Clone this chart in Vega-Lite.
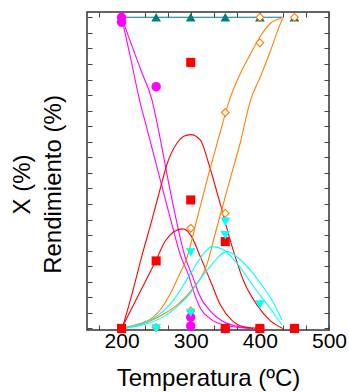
{
  "$schema": "https://vega.github.io/schema/vega-lite/v6.json",
  "width": 242,
  "height": 318,
  "autosize": "none",
  "padding": {"left": 87, "top": 12, "right": 20, "bottom": 62},
  "config": {
    "view": {"stroke": "#333", "strokeWidth": 1.5},
    "axis": {"domain": false, "grid": false, "labelFont": "Liberation Sans", "titleFont": "Liberation Sans", "tickColor": "#444", "labelColor": "#000", "titleColor": "#000", "titleFontWeight": "normal"}
  },
  "datasets": {
    "lines": [
      {"s": "teal", "c": "t1", "T": 195, "V": 100}, {"s": "teal", "c": "t1", "T": 433, "V": 100},
      {"s": "mag", "c": "mA", "T": 200, "V": 100}, {"s": "mag", "c": "mA", "T": 212, "V": 88}, {"s": "mag", "c": "mA", "T": 226, "V": 73.4}, {"s": "mag", "c": "mA", "T": 237, "V": 64}, {"s": "mag", "c": "mA", "T": 256, "V": 47.7}, {"s": "mag", "c": "mA", "T": 271, "V": 35}, {"s": "mag", "c": "mA", "T": 285, "V": 23.6}, {"s": "mag", "c": "mA", "T": 297, "V": 17}, {"s": "mag", "c": "mA", "T": 304, "V": 12}, {"s": "mag", "c": "mA", "T": 314, "V": 6.5}, {"s": "mag", "c": "mA", "T": 329, "V": 3}, {"s": "mag", "c": "mA", "T": 350, "V": 1}, {"s": "mag", "c": "mA", "T": 385, "V": 0},
      {"s": "mag", "c": "mB", "T": 200, "V": 100}, {"s": "mag", "c": "mB", "T": 213, "V": 92}, {"s": "mag", "c": "mB", "T": 228, "V": 83}, {"s": "mag", "c": "mB", "T": 244, "V": 73.4}, {"s": "mag", "c": "mB", "T": 255, "V": 62}, {"s": "mag", "c": "mB", "T": 267, "V": 48}, {"s": "mag", "c": "mB", "T": 279, "V": 35}, {"s": "mag", "c": "mB", "T": 291, "V": 23.6}, {"s": "mag", "c": "mB", "T": 304, "V": 16}, {"s": "mag", "c": "mB", "T": 312, "V": 11}, {"s": "mag", "c": "mB", "T": 329, "V": 5.4}, {"s": "mag", "c": "mB", "T": 345, "V": 2.5}, {"s": "mag", "c": "mB", "T": 365, "V": 0.8}, {"s": "mag", "c": "mB", "T": 390, "V": 0},
      {"s": "red", "c": "r1", "T": 201, "V": 0}, {"s": "red", "c": "r1", "T": 215, "V": 11}, {"s": "red", "c": "r1", "T": 229, "V": 23}, {"s": "red", "c": "r1", "T": 244, "V": 35}, {"s": "red", "c": "r1", "T": 256, "V": 45}, {"s": "red", "c": "r1", "T": 266, "V": 53}, {"s": "red", "c": "r1", "T": 280, "V": 59.5}, {"s": "red", "c": "r1", "T": 290, "V": 61.8}, {"s": "red", "c": "r1", "T": 300, "V": 62.3}, {"s": "red", "c": "r1", "T": 314, "V": 60.5}, {"s": "red", "c": "r1", "T": 326, "V": 53}, {"s": "red", "c": "r1", "T": 333, "V": 47.7}, {"s": "red", "c": "r1", "T": 344, "V": 39}, {"s": "red", "c": "r1", "T": 353, "V": 31.6}, {"s": "red", "c": "r1", "T": 365, "V": 22.6}, {"s": "red", "c": "r1", "T": 377, "V": 15}, {"s": "red", "c": "r1", "T": 396, "V": 7.5}, {"s": "red", "c": "r1", "T": 415, "V": 2.5}, {"s": "red", "c": "r1", "T": 433, "V": 0},
      {"s": "red", "c": "r2", "T": 200, "V": 0}, {"s": "red", "c": "r2", "T": 225, "V": 11}, {"s": "red", "c": "r2", "T": 250, "V": 22}, {"s": "red", "c": "r2", "T": 263, "V": 28}, {"s": "red", "c": "r2", "T": 275, "V": 31}, {"s": "red", "c": "r2", "T": 288, "V": 32}, {"s": "red", "c": "r2", "T": 300, "V": 30}, {"s": "red", "c": "r2", "T": 314, "V": 23}, {"s": "red", "c": "r2", "T": 329, "V": 15}, {"s": "red", "c": "r2", "T": 343, "V": 7.5}, {"s": "red", "c": "r2", "T": 360, "V": 2.5}, {"s": "red", "c": "r2", "T": 377, "V": 0.5}, {"s": "red", "c": "r2", "T": 400, "V": 0},
      {"s": "ora", "c": "oL", "T": 200, "V": 0}, {"s": "ora", "c": "oL", "T": 225, "V": 1.5}, {"s": "ora", "c": "oL", "T": 245, "V": 3.5}, {"s": "ora", "c": "oL", "T": 256, "V": 6}, {"s": "ora", "c": "oL", "T": 270, "V": 11}, {"s": "ora", "c": "oL", "T": 283, "V": 17}, {"s": "ora", "c": "oL", "T": 295, "V": 23}, {"s": "ora", "c": "oL", "T": 310, "V": 36}, {"s": "ora", "c": "oL", "T": 324, "V": 48}, {"s": "ora", "c": "oL", "T": 340, "V": 61}, {"s": "ora", "c": "oL", "T": 357, "V": 74}, {"s": "ora", "c": "oL", "T": 372, "V": 82}, {"s": "ora", "c": "oL", "T": 386, "V": 88}, {"s": "ora", "c": "oL", "T": 401, "V": 94}, {"s": "ora", "c": "oL", "T": 415, "V": 98}, {"s": "ora", "c": "oL", "T": 431, "V": 99.7},
      {"s": "ora", "c": "oR", "T": 203, "V": 0}, {"s": "ora", "c": "oR", "T": 237, "V": 2}, {"s": "ora", "c": "oR", "T": 260, "V": 4.5}, {"s": "ora", "c": "oR", "T": 280, "V": 7.5}, {"s": "ora", "c": "oR", "T": 300, "V": 12}, {"s": "ora", "c": "oR", "T": 324, "V": 21}, {"s": "ora", "c": "oR", "T": 336, "V": 31}, {"s": "ora", "c": "oR", "T": 357, "V": 48}, {"s": "ora", "c": "oR", "T": 372, "V": 60}, {"s": "ora", "c": "oR", "T": 386, "V": 73}, {"s": "ora", "c": "oR", "T": 401, "V": 81}, {"s": "ora", "c": "oR", "T": 415, "V": 89}, {"s": "ora", "c": "oR", "T": 428, "V": 97}, {"s": "ora", "c": "oR", "T": 433, "V": 99.6},
      {"s": "cya", "c": "c1", "T": 203, "V": 0.3}, {"s": "cya", "c": "c1", "T": 246, "V": 3.2}, {"s": "cya", "c": "c1", "T": 275, "V": 9.1}, {"s": "cya", "c": "c1", "T": 300, "V": 17.7}, {"s": "cya", "c": "c1", "T": 319, "V": 24.1}, {"s": "cya", "c": "c1", "T": 331, "V": 26.3}, {"s": "cya", "c": "c1", "T": 348, "V": 25.2}, {"s": "cya", "c": "c1", "T": 367, "V": 20.9}, {"s": "cya", "c": "c1", "T": 391, "V": 13.4}, {"s": "cya", "c": "c1", "T": 420, "V": 4.9}, {"s": "cya", "c": "c1", "T": 432, "V": 1.1},
      {"s": "cya", "c": "c2", "T": 203, "V": 0}, {"s": "cya", "c": "c2", "T": 261, "V": 3.8}, {"s": "cya", "c": "c2", "T": 295, "V": 10.2}, {"s": "cya", "c": "c2", "T": 324, "V": 18.8}, {"s": "cya", "c": "c2", "T": 353, "V": 24.7}, {"s": "cya", "c": "c2", "T": 372, "V": 22}, {"s": "cya", "c": "c2", "T": 401, "V": 14.5}, {"s": "cya", "c": "c2", "T": 420, "V": 8.1}, {"s": "cya", "c": "c2", "T": 432, "V": 2.7}
    ],
    "pts": [
      {"s": "teal", "T": 200, "V": 100}, {"s": "teal", "T": 250, "V": 100}, {"s": "teal", "T": 300, "V": 100}, {"s": "teal", "T": 350, "V": 100}, {"s": "teal", "T": 400, "V": 100}, {"s": "teal", "T": 450, "V": 100},
      {"s": "mag", "T": 200, "V": 100}, {"s": "mag", "T": 200, "V": 98.4}, {"s": "mag", "T": 250, "V": 77.7}, {"s": "mag", "T": 300, "V": 3.6}, {"s": "mag", "T": 300, "V": 0.8}, {"s": "mag", "T": 350, "V": 0}, {"s": "mag", "T": 400, "V": 0}, {"s": "mag", "T": 450, "V": 0},
      {"s": "red", "T": 200, "V": 0}, {"s": "red", "T": 250, "V": 21.7}, {"s": "red", "T": 300, "V": 85.5}, {"s": "red", "T": 300, "V": 41.3}, {"s": "red", "T": 350, "V": 27.9}, {"s": "red", "T": 350, "V": 0}, {"s": "red", "T": 400, "V": 0}, {"s": "red", "T": 450, "V": 0},
      {"s": "ora", "T": 200, "V": 0}, {"s": "ora", "T": 250, "V": 0.3}, {"s": "ora", "T": 300, "V": 32.2}, {"s": "ora", "T": 300, "V": 5.6}, {"s": "ora", "T": 350, "V": 69.4}, {"s": "ora", "T": 350, "V": 37}, {"s": "ora", "T": 400, "V": 91.8}, {"s": "ora", "T": 400, "V": 100}, {"s": "ora", "T": 450, "V": 100},
      {"s": "cya", "T": 250, "V": 0}, {"s": "cya", "T": 300, "V": 24.4}, {"s": "cya", "T": 300, "V": 5}, {"s": "cya", "T": 350, "V": 34.3}, {"s": "cya", "T": 350, "V": 30}, {"s": "cya", "T": 400, "V": 7.7}
    ]
  },
  "resolve": {"axis": {"x": "independent", "y": "independent"}},
  "layer": [
    {
      "data": {"name": "lines"},
      "mark": {"type": "line", "interpolate": "monotone", "strokeWidth": 1.1},
      "encoding": {
        "x": {"field": "T", "type": "quantitative", "scale": {"domain": [150, 500], "nice": false, "zero": false},
          "axis": {"orient": "bottom", "values": [166.667, 200, 233.333, 266.667, 300, 333.333, 366.667, 400, 433.333, 466.667, 500], "labelExpr": "datum.value % 100 == 0 ? format(datum.value, 'd') : ''", "tickSize": -5, "labelFontSize": 21, "labelPadding": 5, "labelFlush": false, "labelOverlap": false, "title": "Temperatura (ºC)", "titleFontSize": 24, "titleBaseline": "alphabetic", "titleY": 55}},
        "y": {"field": "V", "type": "quantitative", "scale": {"domain": [-0.5, 101.7], "nice": false, "zero": false},
          "axis": {"orient": "left", "values": [0, 5, 10, 15, 20, 25, 30, 35, 40, 45, 50, 55, 60, 65, 70, 75, 80, 85, 90, 95, 100], "labels": false, "tickSize": -5, "title": ["X (%)", "Rendimiento (%)"], "titleFontSize": 24, "titleLineHeight": 31, "titleAngle": 270, "titleAlign": "center", "titleBaseline": "middle", "titleX": -65, "titleY": 172}},
        "color": {"field": "s", "type": "nominal", "legend": null, "scale": {"domain": ["teal", "mag", "red", "ora", "cya"], "range": ["#008080", "#FF00FF", "#FF0000", "#FF8000", "#00FFFF"]}},
        "detail": {"field": "c"}
      }
    },
    {
      "data": {"name": "pts"},
      "transform": [{"filter": "datum.s == 'teal'"}],
      "mark": {"type": "point", "filled": true, "shape": "triangle-up", "size": 95, "color": "#008080", "opacity": 1},
      "encoding": {
        "x": {"field": "T", "type": "quantitative",
          "axis": {"orient": "top", "values": [166.667, 200, 233.333, 266.667, 300, 333.333, 366.667, 400, 433.333, 466.667, 500], "labels": false, "tickSize": -5, "title": null}},
        "y": {"field": "V", "type": "quantitative",
          "axis": {"orient": "right", "values": [0, 5, 10, 15, 20, 25, 30, 35, 40, 45, 50, 55, 60, 65, 70, 75, 80, 85, 90, 95, 100], "labels": false, "tickSize": -5, "title": null}}
      }
    },
    {
      "data": {"name": "pts"},
      "transform": [{"filter": "datum.s == 'ora'"}],
      "mark": {"type": "point", "filled": false, "shape": "diamond", "size": 60, "strokeWidth": 1.1, "stroke": "#FF8000", "fill": "#FFFFFF", "fillOpacity": 1, "opacity": 1},
      "encoding": {
        "x": {"field": "T", "type": "quantitative", "axis": null},
        "y": {"field": "V", "type": "quantitative", "axis": null}
      }
    },
    {
      "data": {"name": "pts"},
      "transform": [{"filter": "datum.s == 'mag' || datum.s == 'red'"}],
      "mark": {"type": "point", "filled": true, "opacity": 1},
      "encoding": {
        "x": {"field": "T", "type": "quantitative", "axis": null},
        "y": {"field": "V", "type": "quantitative", "axis": null},
        "color": {"field": "s", "type": "nominal", "legend": null},
        "shape": {"field": "s", "type": "nominal", "legend": null, "scale": {"domain": ["teal", "mag", "red", "ora", "cya"], "range": ["triangle-up", "circle", "square", "diamond", "triangle-down"]}},
        "size": {"field": "s", "type": "nominal", "legend": null, "scale": {"domain": ["teal", "mag", "red", "ora", "cya"], "range": [95, 70, 55, 60, 95]}}
      }
    },
    {
      "data": {"name": "pts"},
      "transform": [{"filter": "datum.s == 'cya'"}],
      "mark": {"type": "point", "filled": true, "shape": "triangle-down", "size": 95, "color": "#00FFFF", "opacity": 1},
      "encoding": {
        "x": {"field": "T", "type": "quantitative", "axis": null},
        "y": {"field": "V", "type": "quantitative", "axis": null}
      }
    }
  ]
}
